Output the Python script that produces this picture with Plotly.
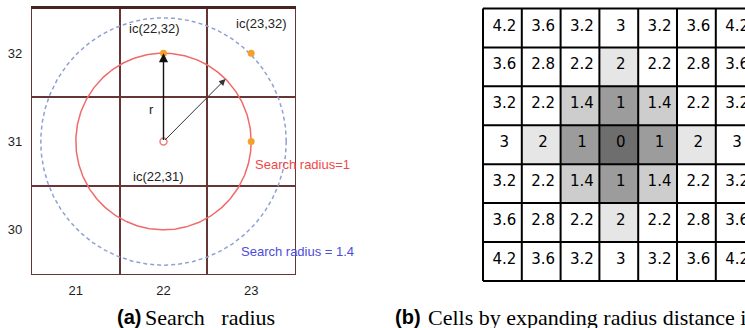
import numpy as np
import plotly.graph_objects as go

# ---- (a) search radius around a query cell ----
grid_cols = [21, 22, 23]
grid_rows = [30, 31, 32]
query_x, query_y = 22, 31
search_radii = [1.0, 1.4]
radius_labels = ["Search radius=1", "Search radius = 1.4"]
radius_colors = ["#f06a6a", "#8ea2d2"]
label_colors = ["#f04848", "#4c4cdc"]
neighbor_x = [22, 23, 23]
neighbor_y = [32, 32, 31]
cell_labels = ["ic(22,32)", "ic(23,32)", "ic(22,31)", "r"]
cell_label_x = [21.9, 23.12, 21.94, 21.86]
cell_label_y = [32.28, 32.34, 30.6, 31.36]

# ---- (b) cells by expanding radius distance ----
cell_distances = [
    [4.2, 3.6, 3.2, 3, 3.2, 3.6, 4.2],
    [3.6, 2.8, 2.2, 2, 2.2, 2.8, 3.6],
    [3.2, 2.2, 1.4, 1, 1.4, 2.2, 3.2],
    [3, 2, 1, 0, 1, 2, 3],
    [3.2, 2.2, 1.4, 1, 1.4, 2.2, 3.2],
    [3.6, 2.8, 2.2, 2, 2.2, 2.8, 3.6],
    [4.2, 3.6, 3.2, 3, 3.2, 3.6, 4.2],
]
shade_levels = [0, 1, 1.4, 2]
shade_colors = ["#6e6e6e", "#9c9c9c", "#cdcdcd", "#e6e6e6"]

W, H = 745, 328
BROWN = "#663636"
SANS = "Liberation Sans, Arial, sans-serif"
SERIF = "Liberation Serif, Times New Roman, serif"

fig = go.Figure()

# search circles
theta = np.linspace(0, 2 * np.pi, 361)
for r, col, dash in zip(search_radii, radius_colors, ["solid", "4px,3px"]):
    fig.add_trace(go.Scatter(
        x=query_x + r * np.cos(theta), y=query_y + r * np.sin(theta),
        mode="lines", line=dict(color=col, width=1.5, dash=dash),
        hoverinfo="skip", showlegend=False, xaxis="x", yaxis="y"))

# neighbouring cell centres and the query cell
fig.add_trace(go.Scatter(
    x=neighbor_x, y=neighbor_y, mode="markers",
    marker=dict(color="#f2a22a", size=7), showlegend=False,
    xaxis="x", yaxis="y"))
fig.add_trace(go.Scatter(
    x=[query_x], y=[query_y], mode="markers",
    marker=dict(color="rgba(0,0,0,0)", size=7,
                line=dict(color="#e88080", width=1.5)),
    showlegend=False, xaxis="x", yaxis="y"))

# distance grid
zmax = max(max(row) for row in cell_distances)
bounds = [(a + b) / 2 for a, b in zip(shade_levels[:-1], shade_levels[1:])]
bounds.append(shade_levels[-1] + 0.1)
scale = []
lo = 0.0
for b, c in zip(bounds, shade_colors):
    scale += [[lo, c], [b / zmax, c]]
    lo = b / zmax
scale += [[lo, "#ffffff"], [1.0, "#ffffff"]]

n_rows = len(cell_distances)
n_cols = len(cell_distances[0])
fig.add_trace(go.Heatmap(
    z=cell_distances, x=list(range(n_cols)), y=list(range(n_rows)),
    colorscale=scale, zmin=0, zmax=zmax, showscale=False,
    hoverinfo="skip", xaxis="x2", yaxis="y2"))

# cell borders
gx, gy = [], []
for k in range(n_cols + 1):
    gx += [k - 0.5, k - 0.5, None]
    gy += [-0.5, n_rows - 0.5, None]
for k in range(n_rows + 1):
    gx += [-0.5, n_cols - 0.5, None]
    gy += [k - 0.5, k - 0.5, None]
fig.add_trace(go.Scatter(
    x=gx, y=gy, mode="lines", line=dict(color="black", width=2),
    hoverinfo="skip", showlegend=False, xaxis="x2", yaxis="y2"))

# cell values
tx, ty, tt = [], [], []
for i, row in enumerate(cell_distances):
    for j, v in enumerate(row):
        tx.append(j + 0.05)
        ty.append(i - 0.03)
        tt.append(f"{v:g}")
fig.add_trace(go.Scatter(
    x=tx, y=ty, text=tt, mode="text", textposition="middle center",
    textfont=dict(family="DejaVu Sans", size=15, color="black"),
    hoverinfo="skip", showlegend=False, xaxis="x2", yaxis="y2"))

annotations = []
# radius arrows
annotations.append(dict(
    x=query_x, y=query_y + search_radii[0], ax=query_x, ay=query_y,
    xref="x", yref="y", axref="x", ayref="y", text="", showarrow=True,
    arrowhead=2, arrowsize=1.3, arrowwidth=1.4, arrowcolor="#111111"))
annotations.append(dict(
    x=query_x + search_radii[0] * np.cos(np.pi / 4),
    y=query_y + search_radii[0] * np.sin(np.pi / 4),
    ax=query_x, ay=query_y,
    xref="x", yref="y", axref="x", ayref="y", text="", showarrow=True,
    arrowhead=2, arrowsize=1.3, arrowwidth=1, arrowcolor="#333333"))
for t, x, y in zip(cell_labels, cell_label_x, cell_label_y):
    annotations.append(dict(x=x, y=y, xref="x", yref="y", text=t,
                            showarrow=False,
                            font=dict(family=SANS, size=13, color="#222222")))
for t, c, x, y in zip(radius_labels, label_colors, [23.02, 22.86], [30.74, 29.75]):
    annotations.append(dict(x=x, y=y, xref="x", yref="y", text=t,
                            showarrow=False, xanchor="left",
                            font=dict(family=SANS, size=13, color=c)))

# captions
annotations += [
    dict(x=115 / W, y=(H - 317) / H, xref="paper", yref="paper",
         xanchor="left", yanchor="middle", text="<b>(a)</b>", showarrow=False,
         font=dict(family=SANS, size=20, color="black")),
    dict(x=143 / W, y=(H - 317) / H, xref="paper", yref="paper",
         xanchor="left", yanchor="middle", text="Search&nbsp;&nbsp; radius",
         showarrow=False, font=dict(family=SERIF, size=22, color="black")),
    dict(x=393 / W, y=(H - 317) / H, xref="paper", yref="paper",
         xanchor="left", yanchor="middle", text="<b>(b)</b>", showarrow=False,
         font=dict(family=SANS, size=20, color="black")),
    dict(x=426 / W, y=(H - 317) / H, xref="paper", yref="paper",
         xanchor="left", yanchor="middle",
         text="Cells by expanding radius distance in",
         showarrow=False, font=dict(family=SERIF, size=22, color="black")),
]

left_dom_x = [32 / W, 295 / W]
left_dom_y = [(H - 274) / H, (H - 9) / H]
axis_common = dict(showline=True, linecolor=BROWN, linewidth=1.2, mirror=True,
                   showgrid=False, zeroline=False, ticks="",
                   tickfont=dict(family=SANS, size=13, color="#1e1e1e"),
                   minor=dict(dtick=1, tick0=0.5, showgrid=True,
                              gridcolor=BROWN, gridwidth=1.5))

# right panel geometry: 38.8 px columns, 38.9 px rows
x2_lo = -0.5 - 3 / 38.8
x2_hi = x2_lo + (W - 480) / 38.8

fig.update_layout(
    width=W, height=H, margin=dict(l=0, r=0, t=0, b=0),
    paper_bgcolor="white", plot_bgcolor="white",
    xaxis=dict(domain=left_dom_x, range=[20.5, 23.5], tickvals=grid_cols,
               ticklabelstandoff=4, **axis_common),
    yaxis=dict(domain=left_dom_y, range=[29.5, 32.5], tickvals=grid_rows,
               ticklabelstandoff=6, **axis_common),
    xaxis3=dict(overlaying="x", side="top", range=[20.5, 23.5],
                showline=True, linecolor="#4a2222", linewidth=3,
                showticklabels=False, showgrid=False, zeroline=False),
    xaxis2=dict(domain=[480 / W, 1.0], range=[x2_lo, x2_hi], visible=False),
    yaxis2=dict(domain=[(H - 284) / H, (H - 5) / H], range=[6.58, -0.59],
                visible=False, anchor="x2"),
    annotations=annotations,
)
# attach the top border axis so it is drawn
fig.add_trace(go.Scatter(x=[None], y=[None], xaxis="x3", yaxis="y",
                         showlegend=False, hoverinfo="skip"))

fig.write_html("out.html")
